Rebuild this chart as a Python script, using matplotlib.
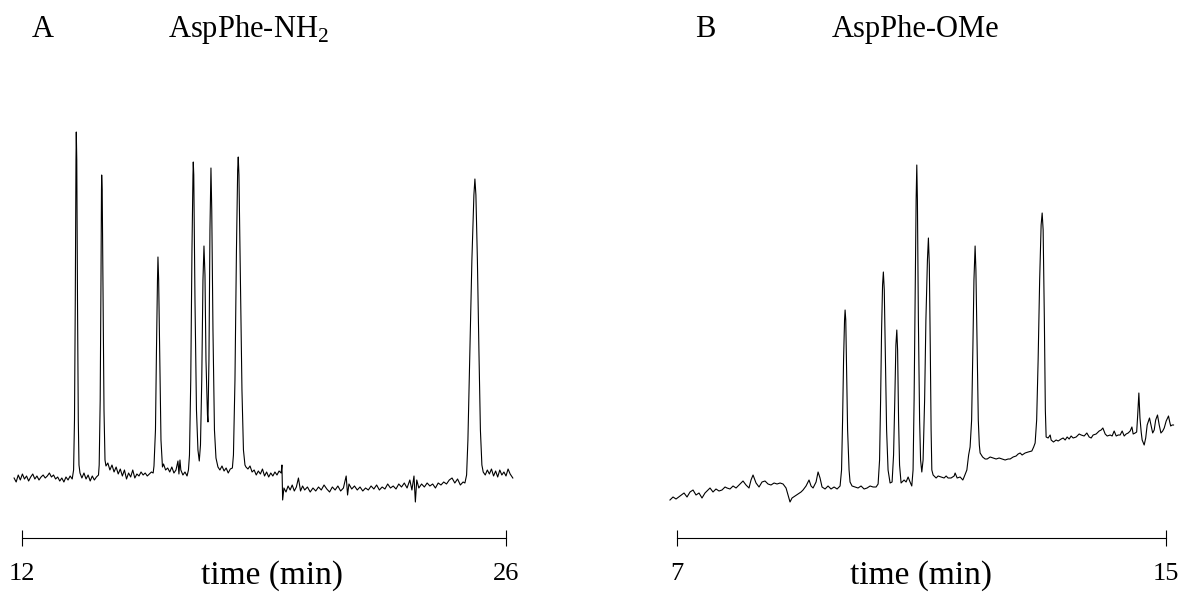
import matplotlib
matplotlib.use("Agg")
import matplotlib.pyplot as plt

plt.rcParams["font.family"] = ["Liberation Serif", "DejaVu Serif"]
plt.rcParams["mathtext.fontset"] = "custom"
plt.rcParams["mathtext.rm"] = "Liberation Serif"

# ---- data (time in min, detector signal in a.u.) ----
time_a = [11.78, 11.84, 11.90, 11.96, 12.02, 12.08, 12.14, 12.20, 12.26, 12.32, 12.38, 12.44,
          12.50, 12.56, 12.62, 12.68, 12.74, 12.80, 12.86, 12.92, 12.98, 13.04, 13.10, 13.16,
          13.22, 13.28, 13.34, 13.40, 13.46,
          13.50, 13.526, 13.549, 13.569, 13.578, 13.592, 13.613, 13.636, 13.656, 13.685,
          13.74, 13.80, 13.86, 13.92, 13.98, 14.04, 14.10, 14.16, 14.22,
          14.240, 14.269, 14.292, 14.306, 14.312, 14.327, 14.350, 14.379, 14.408, 14.436,
          14.49, 14.55, 14.61, 14.67, 14.73, 14.79, 14.85, 14.91, 14.97, 15.03, 15.09, 15.15,
          15.21, 15.27, 15.33, 15.39, 15.45, 15.51, 15.57, 15.63, 15.69, 15.75, 15.80,
          15.824, 15.867, 15.896, 15.925, 15.939, 15.959, 15.988, 16.026, 16.069,
          16.10, 16.16, 16.22, 16.28, 16.34, 16.40, 16.46, 16.517, 16.545, 16.575, 16.60,
          16.66, 16.72, 16.78, 16.82,
          16.850, 16.887, 16.922, 16.951, 16.960, 16.974, 17.009, 17.052, 17.095, 17.133,
          17.168, 17.205, 17.240, 17.269, 17.298, 17.327, 17.370, 17.384,
          17.413, 17.442, 17.471, 17.494, 17.529, 17.572, 17.616, 17.673,
          17.73, 17.79, 17.85, 17.91, 17.97, 18.03, 18.09,
          18.121, 18.165, 18.208, 18.243, 18.260, 18.280, 18.324, 18.367, 18.410, 18.454, 18.483,
          18.54, 18.60, 18.66, 18.72, 18.78, 18.84, 18.90, 18.96, 19.02, 19.08, 19.14, 19.20,
          19.26, 19.32, 19.38, 19.44, 19.50, 19.523, 19.543,
          19.58, 19.64, 19.70, 19.76, 19.82, 19.88, 19.94, 20.00, 20.06, 20.12, 20.18, 20.26,
          20.34, 20.42, 20.50, 20.58, 20.66, 20.74, 20.82, 20.90, 20.98, 21.06, 21.14, 21.22,
          21.30, 21.38, 21.42, 21.46, 21.54, 21.62, 21.70, 21.78, 21.86, 21.94, 22.02, 22.10,
          22.18, 22.26, 22.34, 22.42, 22.50, 22.58, 22.66, 22.74, 22.82, 22.90, 22.98, 23.06,
          23.14, 23.22, 23.28, 23.34, 23.38, 23.42, 23.48, 23.56, 23.64, 23.72, 23.80, 23.88,
          23.96, 24.04, 24.12, 24.20, 24.28, 24.36, 24.44, 24.52, 24.60, 24.68, 24.76,
          24.812, 24.861, 24.899, 24.957, 25.014, 25.072, 25.101, 25.130, 25.173, 25.217,
          25.260, 25.303, 25.341,
          25.40, 25.46, 25.52, 25.58, 25.64, 25.70, 25.76, 25.82, 25.88, 25.94, 26.00, 26.06,
          26.12, 26.197]
signal_a = [22, 18, 25, 20, 26, 21, 24, 19, 23, 26, 21, 24,
            20, 23, 25, 22, 24, 27, 23, 25, 21, 23, 19, 22,
            18, 23, 20, 24, 21,
            30, 80, 200, 340, 368, 340, 200, 80, 35, 27,
            22, 27, 21, 25, 19, 24, 20, 23, 25,
            35, 100, 220, 310, 325, 310, 210, 90, 40, 34,
            37, 30, 35, 28, 33, 26, 31, 24, 30, 21, 27, 23,
            30, 22, 26, 24, 28, 25, 27, 24, 26, 28, 27,
            34, 70, 150, 220, 243, 220, 150, 60, 33,
            36, 30, 32, 28, 33, 27, 30, 39, 26, 40, 30,
            25, 28, 24, 30,
            45, 120, 250, 325, 338, 325, 200, 90, 50, 39,
            55, 120, 220, 254, 225, 140, 85, 78,
            140, 270, 332, 290, 170, 70, 42, 33,
            30, 34, 29, 32, 27, 31, 32,
            45, 120, 250, 330, 343, 325, 220, 110, 50, 35, 33,
            31, 34, 28, 30, 25, 29, 26, 31, 24, 28, 23, 27,
            24, 28, 25, 29, 27, 35, 0,
            12, 8, 14, 10, 15, 9, 13, 22, 9, 14, 10, 13,
            8, 12, 9, 13, 10, 15, 11, 8, 13, 10, 14, 9,
            12, 24, 5, 16, 11, 14, 10, 13, 9, 12, 10, 14,
            11, 15, 10, 13, 11, 16, 12, 14, 11, 16, 13, 17,
            12, 20, 10, 24, -2, 20, 12, 16, 13, 17, 14, 16,
            12, 17, 15, 18, 16, 20, 22, 17, 21, 15, 18,
            17, 25, 60, 150, 240, 305, 321, 305, 240, 150,
            70, 35, 28,
            25, 30, 26, 31, 24, 29, 23, 30, 25, 28, 24, 31,
            26, 22]

time_b = [6.885, 6.935, 6.984, 7.049, 7.115, 7.164, 7.213, 7.262, 7.311, 7.360, 7.409, 7.458,
          7.507, 7.540, 7.589, 7.638, 7.687, 7.736, 7.786, 7.818, 7.867, 7.917, 7.966, 8.015,
          8.047, 8.080, 8.129, 8.178, 8.211, 8.244, 8.293, 8.342, 8.391, 8.440, 8.489, 8.538,
          8.588, 8.637, 8.686, 8.735, 8.784, 8.817, 8.849, 8.882, 8.931, 8.980, 9.029, 9.062,
          9.111, 9.160, 9.193, 9.226, 9.275, 9.308, 9.340, 9.373, 9.422, 9.471, 9.520, 9.570,
          9.619, 9.668,
          9.692, 9.709, 9.725, 9.741, 9.750, 9.761, 9.774, 9.791, 9.815, 9.831,
          9.864, 9.913, 9.962, 10.011, 10.061, 10.110, 10.159, 10.208, 10.257, 10.290,
          10.314, 10.331, 10.347, 10.363, 10.376, 10.391, 10.407, 10.429, 10.453, 10.486,
          10.519, 10.543, 10.563, 10.581, 10.596, 10.609, 10.625, 10.641, 10.666,
          10.715, 10.748, 10.781, 10.813, 10.841,
          10.862, 10.879, 10.895, 10.912, 10.923, 10.933, 10.949, 10.969, 10.985, 11.005,
          11.026, 11.051, 11.072, 11.097, 11.113, 11.128, 11.144, 11.157, 11.169,
          11.190, 11.239, 11.272, 11.321, 11.370, 11.403, 11.435, 11.484, 11.534, 11.550,
          11.583, 11.632, 11.676, 11.697, 11.742,
          11.771, 11.795, 11.820, 11.840, 11.858, 11.877, 11.890, 11.910, 11.929, 11.946, 11.959,
          12.000, 12.041, 12.074, 12.123, 12.172, 12.221, 12.270, 12.319, 12.368, 12.417,
          12.450, 12.499, 12.548, 12.581, 12.614, 12.646, 12.695, 12.745, 12.805, 12.835, 12.859,
          12.884, 12.908, 12.933, 12.957, 12.974, 12.990, 13.010, 13.026, 13.039,
          13.072, 13.105, 13.121, 13.159, 13.203, 13.236, 13.285, 13.317, 13.350, 13.383,
          13.416, 13.448, 13.481, 13.530, 13.579, 13.612, 13.661, 13.705, 13.743, 13.776,
          13.808, 13.857, 13.907, 13.939, 13.967, 14.005, 14.038, 14.087, 14.119, 14.152,
          14.185, 14.218, 14.250, 14.283, 14.316, 14.348, 14.381, 14.414, 14.442, 14.463,
          14.496, 14.520, 14.537, 14.556, 14.574, 14.594, 14.610, 14.643, 14.668, 14.692,
          14.730, 14.758, 14.782, 14.807, 14.831, 14.861, 14.889, 14.917, 14.946, 14.971,
          15.003, 15.041, 15.061, 15.077, 15.101, 15.123]
signal_b = [0, 3, 1, 4, 7, 3, 8, 10, 5, 7, 2, 7,
            10, 12, 8, 11, 9, 10, 13, 12, 11, 14, 12, 15,
            17, 19, 15, 12, 20, 25, 17, 13, 18, 19, 16, 15,
            17, 16, 17, 16, 12, 5, -2, 2, 4, 6, 8, 10,
            14, 20, 14, 12, 18, 28, 22, 13, 11, 14, 11, 13,
            11, 14,
            30, 80, 140, 180, 190, 180, 130, 70, 30, 18,
            14, 13, 12, 14, 11, 12, 14, 13, 13, 16,
            40, 100, 170, 215, 228, 210, 150, 70, 30, 17,
            18, 45, 100, 155, 170, 150, 80, 35, 17,
            20, 18, 23, 18, 14,
            30, 100, 200, 300, 335, 300, 180, 80, 40, 28,
            40, 100, 180, 240, 262, 235, 150, 70, 30,
            25, 22, 24, 23, 22, 24, 22, 22, 24, 27,
            22, 23, 20, 23, 30,
            45, 53, 80, 150, 220, 254, 230, 150, 80, 55, 47,
            43, 41, 41, 43, 42, 41, 42, 41, 40, 41,
            41, 43, 44, 46, 47, 45, 47, 48, 49, 53, 57,
            80, 140, 220, 275, 287, 270, 180, 90, 63,
            62, 65, 60, 58, 60, 59, 61, 62, 60, 63,
            61, 64, 62, 63, 66, 65, 64, 67, 63, 62,
            65, 66, 69, 70, 72, 66, 64, 65, 64, 69,
            64, 65, 65, 69, 64, 66, 67, 69, 73, 66,
            67, 68, 85, 107, 82, 68, 60, 55, 62, 75,
            82, 74, 67, 70, 80, 85, 75, 67, 69, 72,
            79, 84, 78, 74, 75, 75]

panels = ["A", "B"]
compounds = ["AspPhe-NH$_\\mathrm{2}$", "AspPhe-OMe"]
time_ranges = [(12, 26), (7, 15)]

W, H = 1181, 601
fig = plt.figure(figsize=(W / 100, H / 100), dpi=100)

# axes placed so that the scale bars land where they are in the original
boxes = [(21.7, 506.0), (677.0, 1166.0)]
traces = [(time_a, signal_a), (time_b, signal_b)]
bar_level = -38

for (x0, x1), (t, s), (lo, hi) in zip(boxes, traces, time_ranges):
    ax = fig.add_axes([x0 / W, 0, (x1 - x0) / W, 1])
    ax.plot(t, s, color="black", lw=0.8, clip_on=False)
    ax.set_xlim(lo, hi)
    ax.set_ylim(-101, 500)
    for side in ["top", "left", "right"]:
        ax.spines[side].set_visible(False)
    ax.spines["bottom"].set_position(("data", bar_level))
    ax.spines["bottom"].set_bounds(lo, hi)
    ax.spines["bottom"].set_linewidth(0.8)
    ax.set_yticks([])
    ax.set_xticks([lo, hi])
    ax.tick_params(axis="x", direction="inout", length=12, width=0.8,
                   pad=12, labelsize=19)
    ax.set_xlabel("time (min)", fontsize=24)
    ax.xaxis.set_label_coords(0.517 if lo == 12 else 0.5, 0.068)
    ax.patch.set_alpha(0)

fig.text(32 / W, 1 - 37 / H, panels[0], fontsize=22, va="baseline")
fig.text(168 / W, 1 - 37 / H, compounds[0], fontsize=22, va="baseline")
fig.text(695 / W, 1 - 37 / H, panels[1], fontsize=22, va="baseline")
fig.text(832 / W, 1 - 37 / H, compounds[1], fontsize=22, va="baseline")

fig.savefig("out.png", dpi=100)
